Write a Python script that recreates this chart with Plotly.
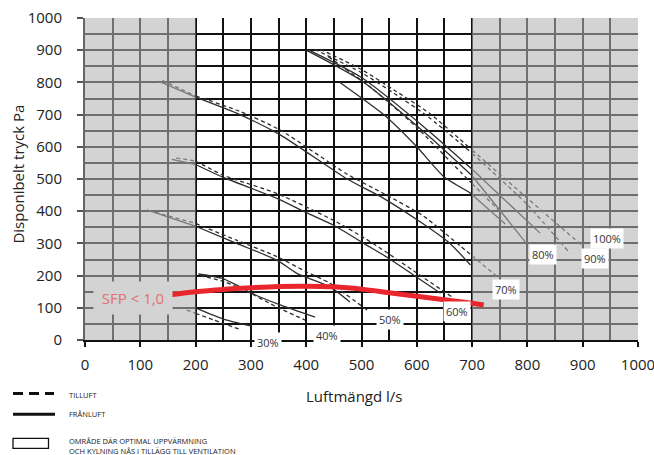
import numpy as np
import plotly.graph_objects as go

# ---- Fan curves: airflow (l/s) vs available pressure (Pa) ----
# Supply air (tilluft, dashed) and extract air (frånluft, solid) per fan speed
sup_30_x = [184, 233, 283]
sup_30_y = [93, 62, 31]
ext_30_x = [202, 250, 301]
ext_30_y = [98, 65, 43]

sup_40_x = [208, 252, 294, 346, 398]
sup_40_y = [200, 181, 150, 103, 62]
ext_40_x = [205, 247, 277, 304, 353, 416]
ext_40_y = [205, 192, 168, 143, 109, 71]

sup_50_x = [115, 200, 274, 347, 400, 443, 510]
sup_50_y = [402, 362, 310, 259, 212, 176, 93]
ext_50_x = [112, 199, 274, 347, 383, 443, 479]
ext_50_y = [404, 354, 300, 248, 207, 165, 118]

sup_60_x = [165, 200, 250, 347, 449, 504, 549, 594, 665]
sup_60_y = [565, 556, 512, 455, 372, 318, 268, 215, 132]
ext_60_x = [157, 200, 250, 347, 401, 449, 504, 549, 594, 643]
ext_60_y = [561, 545, 505, 440, 395, 357, 300, 254, 202, 145]

sup_70_x = [140, 200, 280, 353, 474, 540, 612, 680, 748]
sup_70_y = [806, 758, 710, 652, 515, 455, 385, 290, 193]
ext_70_x = [133, 200, 280, 353, 474, 540, 612, 660, 697]
ext_70_y = [804, 754, 700, 637, 500, 440, 360, 300, 233]

sup_80_x = [440, 520, 600, 680, 750]
sup_80_y = [880, 780, 660, 520, 400]
ext_80_x = [459, 540, 600, 649, 697, 760]
ext_80_y = [802, 700, 600, 507, 456, 360]

sup_90_x = [415, 500, 560, 620, 700, 800, 877]
sup_90_y = [903, 830, 765, 694, 580, 420, 269]
ext_90_x = [400, 500, 623, 700, 796]
ext_90_y = [900, 805, 631, 510, 305]

sup_100_x = [425, 500, 560, 623, 700, 800, 901]
sup_100_y = [903, 840, 775, 704, 590, 440, 290]
ext_100_x = [405, 500, 623, 700, 823]
ext_100_y = [900, 815, 647, 530, 332]

# SFP < 1,0 limit line
sfp_x = [151, 200, 250, 300, 350, 400, 450, 500, 550, 600, 650, 700, 721]
sfp_y = [140, 150, 157, 162, 166, 167, 165, 158, 147, 136, 125, 114, 109]

# Speed labels placed at the end of each curve pair
speed_names = ["30%", "40%", "50%", "60%", "70%", "80%", "90%", "100%"]
speed_label_x = [331, 438, 552, 673, 762, 829, 923, 944]
speed_label_y = [-9, 14, 65, 87, 157, 267, 253, 315]

x_ticks = list(range(0, 1001, 100))
y_ticks = list(range(0, 1001, 100))

curves = [
    (sup_30_x, sup_30_y, "dash"), (ext_30_x, ext_30_y, "solid"),
    (sup_40_x, sup_40_y, "dash"), (ext_40_x, ext_40_y, "solid"),
    (sup_50_x, sup_50_y, "dash"), (ext_50_x, ext_50_y, "solid"),
    (sup_60_x, sup_60_y, "dash"), (ext_60_x, ext_60_y, "solid"),
    (sup_70_x, sup_70_y, "dash"), (ext_70_x, ext_70_y, "solid"),
    (sup_80_x, sup_80_y, "dash"), (ext_80_x, ext_80_y, "solid"),
    (sup_90_x, sup_90_y, "dash"), (ext_90_x, ext_90_y, "solid"),
    (sup_100_x, sup_100_y, "dash"), (ext_100_x, ext_100_y, "solid"),
]

# Flow range where heating/cooling is reached in addition to ventilation
ZONE_LO, ZONE_HI = 200, 700

FONT = "Open Sans"
DARK = "#2e2e2e"
SHADED_CURVE = "#7a7a7a"


def split_by_zone(xs, ys):
    """Split a curve at the zone borders; returns (x, y, inside_zone) parts."""
    xs = list(map(float, xs))
    ys = list(map(float, ys))
    for b in (ZONE_LO, ZONE_HI):
        if xs[0] < b < xs[-1] and b not in xs:
            yb = float(np.interp(b, xs, ys))
            i = int(np.searchsorted(xs, b))
            xs.insert(i, b)
            ys.insert(i, yb)
    parts = []
    for lo, hi, inside in ((-1e9, ZONE_LO, False), (ZONE_LO, ZONE_HI, True), (ZONE_HI, 1e9, False)):
        px = [x for x in xs if lo <= x <= hi]
        py = [y for x, y in zip(xs, ys) if lo <= x <= hi]
        if len(px) >= 2:
            parts.append((px, py, inside))
    return parts


fig = go.Figure()

for xs, ys, dash in curves:
    for px, py, inside in split_by_zone(xs, ys):
        fig.add_trace(go.Scatter(
            x=px, y=py, mode="lines", hoverinfo="skip", showlegend=False,
            line=dict(color=DARK if inside else SHADED_CURVE, width=1.3,
                      dash="4px,3px" if dash == "dash" else "solid",
                      shape="spline", smoothing=0.6),
        ))

fig.add_trace(go.Scatter(
    x=sfp_x, y=sfp_y, mode="lines", hoverinfo="skip", showlegend=False,
    line=dict(color="#e8262c", width=5, shape="spline", smoothing=1.0),
))

# Shaded flow ranges outside the zone (drawn over the grid, under the curves)
shade = "rgba(179,179,179,0.58)"
fig.add_shape(type="rect", xref="x", yref="y", x0=0, x1=ZONE_LO, y0=0, y1=1000,
              fillcolor=shade, line_width=0, layer="between")
fig.add_shape(type="rect", xref="x", yref="y", x0=ZONE_HI, x1=1000, y0=0, y1=1000,
              fillcolor=shade, line_width=0, layer="between")

# Speed labels (paper-referenced vertically so labels on the axis line stay visible)
for name, lx, ly in zip(speed_names, speed_label_x, speed_label_y):
    fig.add_annotation(x=lx, y=ly / 1000.0, xref="x", yref="paper", text=name, showarrow=False,
                       xanchor="center", yanchor="middle",
                       font=dict(family=FONT, size=11, color="#333"),
                       bgcolor="white", borderpad=2)

fig.add_annotation(x=86, y=130, xref="x", yref="y", text="SFP < 1,0", showarrow=False,
                   xanchor="center", yanchor="middle",
                   font=dict(family=FONT, size=15, color="#e07272"),
                   bgcolor="#d3d3d3", width=76, height=30)

# Axis titles
fig.add_annotation(x=0.488, y=-0.173, xref="paper", yref="paper", text="Luftmängd l/s",
                   showarrow=False, font=dict(family=FONT, size=15, color="#222"),
                   xanchor="center", yanchor="middle")
fig.add_annotation(x=-0.121, y=0.514, xref="paper", yref="paper", text="Disponibelt tryck Pa",
                   showarrow=False, textangle=-90, font=dict(family=FONT, size=15, color="#222"),
                   xanchor="center", yanchor="middle")

# Legend (drawn below the chart)
PW, PH, L, T = 553.0, 322.0, 85.0, 18.0


def px_x(v):
    return (v - L) / PW


def px_y(v):
    return (T + PH - v) / PH


fig.add_shape(type="line", xref="paper", yref="paper", x0=px_x(13), x1=px_x(54),
              y0=px_y(393.5), y1=px_y(393.5), line=dict(color="#111", width=3, dash="10px,6px"))
fig.add_shape(type="line", xref="paper", yref="paper", x0=px_x(13), x1=px_x(55),
              y0=px_y(414.3), y1=px_y(414.3), line=dict(color="#111", width=3))
fig.add_shape(type="rect", xref="paper", yref="paper", x0=px_x(13), x1=px_x(48.5),
              y0=px_y(448.3), y1=px_y(438.3), line=dict(color="#111", width=1.3))

legend_texts = [("TILLUFT", 395.5), ("FRÅNLUFT", 414.3),
                ("OMRÅDE DÄR OPTIMAL UPPVÄRMNING<br>OCH KYLNING NÅS I TILLÄGG TILL VENTILATION", 445.5)]
for txt, yy in legend_texts:
    fig.add_annotation(x=px_x(66.5), y=px_y(yy), xref="paper", yref="paper", text=txt,
                       showarrow=False, align="left", xanchor="left", yanchor="middle",
                       font=dict(family=FONT, size=7.5, color="#222"))

fig.update_layout(
    width=654, height=455,
    margin=dict(l=85, r=16, t=18, b=115, autoexpand=False),
    paper_bgcolor="white", plot_bgcolor="white",
    font=dict(family=FONT, size=15, color="#222"),
    showlegend=False,
)
fig.update_xaxes(
    range=[0, 1000], tickvals=x_ticks, ticktext=[str(v) for v in x_ticks],
    showgrid=True, gridcolor="#111", gridwidth=2,
    minor=dict(dtick=50, tick0=0, showgrid=True, gridcolor="#111", gridwidth=2),
    showline=True, linecolor="#111", linewidth=2, zeroline=False,
    ticks="outside", ticklen=5, tickcolor="#111", tickwidth=1.5,
    tickfont=dict(family=FONT, size=15, color="#222"),
    ticklabelstandoff=5, ticklabeloverflow="allow", automargin=False,
)
fig.update_yaxes(
    range=[0, 1000], tickvals=y_ticks, ticktext=[str(v) for v in y_ticks],
    showgrid=True, gridcolor="#111", gridwidth=2,
    minor=dict(dtick=50, tick0=0, showgrid=True, gridcolor="#111", gridwidth=2),
    showline=True, linecolor="#666", linewidth=2, zeroline=False,
    ticks="outside", ticklen=6, tickcolor="#555", tickwidth=1.5,
    tickfont=dict(family=FONT, size=15, color="#222"),
    ticklabelstandoff=12, automargin=False,
)

fig.write_html("out.html")
